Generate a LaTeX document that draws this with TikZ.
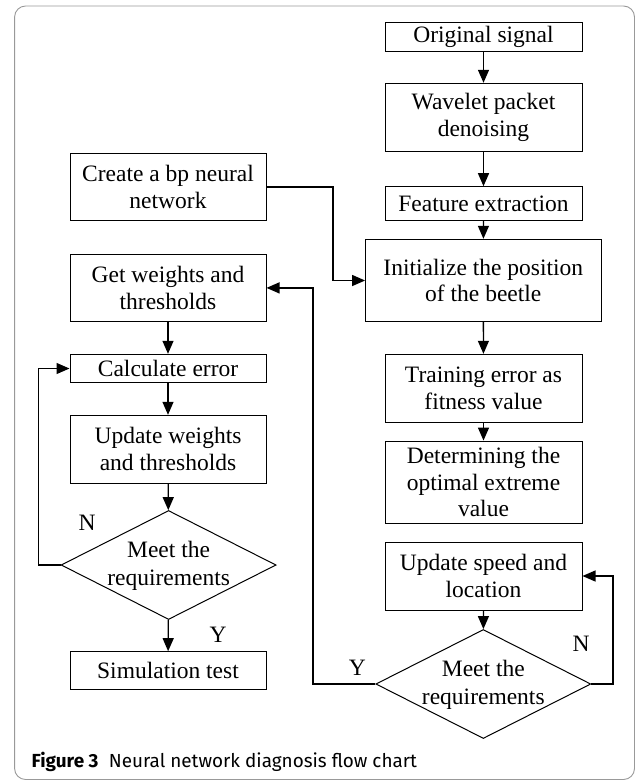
\documentclass[tikz,border=0pt]{standalone}
\usepackage{fontspec}
\setmainfont{Liberation Serif}
\newfontfamily\capfont{Fira Sans}
\usetikzlibrary{shapes.geometric,arrows.meta}
\begin{document}
\begin{tikzpicture}[x=1pt,y=-1pt,
  box/.style={draw, line width=1pt, inner sep=0pt, align=center,
    font=\fontsize{23.5}{26.7}\selectfont, minimum width=197pt},
  dia/.style={draw, diamond, line width=1pt, inner sep=0pt,
    minimum width=215pt, minimum height=109pt},
  dtxt/.style={inner sep=0pt, align=center, font=\fontsize{23.5}{28}\selectfont},
  lbl/.style={inner sep=0pt, font=\fontsize{23.5}{26.7}\selectfont},
  arr/.style={-{Triangle[length=13pt,width=11pt]}, line width=1.3pt}]
\useasboundingbox (0,0) rectangle (637,782);
\draw[gray!80, line width=0.9pt, rounded corners=11pt] (14.6,6) rectangle (634.5,779.5);
% right column
\node[box, minimum height=29pt] (orig) at (483.5,37.2) {Original signal};
\node[box, minimum height=68.4pt] (wave) at (483.5,117.5) {Wavelet packet\\denoising};
\node[box, minimum height=34pt] (feat) at (483.5,203.7) {Feature extraction};
\node[box, minimum height=82.4pt, minimum width=235.4pt] (init) at (483.3,280.5) {Initialize the position\\of the beetle};
\node[box, minimum height=68.4pt] (train) at (483.5,388.5) {Training error as\\fitness value};
\node[box, minimum height=82.3pt] (det) at (483.5,482.2) {Determining the\\optimal extreme\\value};
\node[box, minimum height=68pt] (upd2) at (483.5,576) {Update speed and\\location};
\node[dia] (d2) at (483.3,684) {};
\node[dtxt] (d2t) at (483.3,685) {Meet the\\requirements};
% left column
\node[box, minimum height=67.7pt, minimum width=196pt] (create) at (168,186.9) {Create a bp neural\\network};
\node[box, minimum height=67.7pt, minimum width=196pt] (getw) at (168,287.9) {Get weights and\\thresholds};
\node[box, minimum height=28.4pt, minimum width=196pt] (calc) at (168,368.5) {Calculate error};
\node[box, minimum height=68pt, minimum width=196pt] (upd1) at (168,449.3) {Update weights\\and thresholds};
\node[dia] (d1) at (168.6,565) {};
\node[dtxt] (d1t) at (168.6,566) {Meet the\\requirements};
\node[box, minimum height=37.6pt, minimum width=196pt] (sim) at (168,670.5) {Simulation test};
% junctions
\coordinate (j1) at (333,280.5);
\coordinate (j2) at (313,287.9);
\coordinate (j3) at (613,576);
\coordinate (j4) at (38.6,368.5);
% connectors
\draw[arr] (orig) -- (wave);
\draw[arr] (wave) -- (feat);
\draw[arr] (feat) -- (init);
\draw[arr] (init) -- (train);
\draw[arr] (train) -- (det);
\draw[arr] (upd2) -- (d2);
\draw[arr] (d2.east) -| (j3) -- (upd2.east);
\draw[arr] (d2.west) -| (j2) -- (getw.east);
\draw[arr] (create.east) -| (j1) -- (init.west);
\draw[arr] (getw) -- (calc);
\draw[arr] (calc) -- (upd1);
\draw[arr] (upd1) -- (d1);
\draw[arr] (d1.west) -| (j4) -- (calc.west);
\draw[arr] (d1) -- (sim);
% labels
\node[lbl] (n1) at (87,523) {N};
\node[lbl] (y1) at (218,635) {Y};
\node[lbl] (n2) at (581,644) {N};
\node[lbl] (y2) at (357.4,668) {Y};
% caption
\node[anchor=base west, inner sep=0pt] (cap) at (31.5,767) {\capfont\fontsize{18.9}{22}\selectfont\textbf{Figure 3}\hspace{0.55em}Neural network diagnosis flow chart};
\end{tikzpicture}
\end{document}
